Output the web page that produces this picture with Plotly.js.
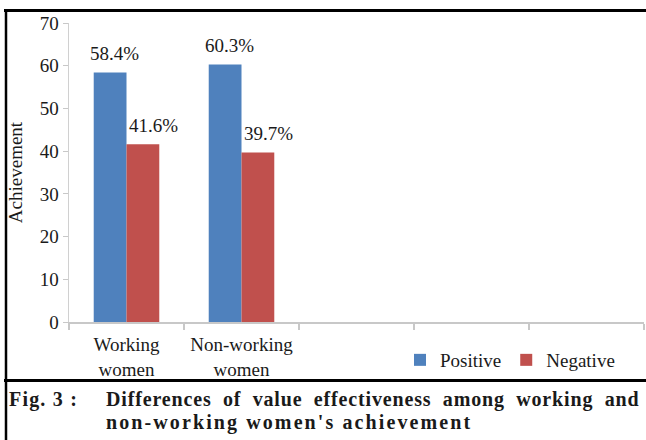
<!DOCTYPE html>
<html>
<head>
<meta charset="utf-8">
<script src="https://cdn.plot.ly/plotly-3.0.1.min.js"></script>
<style>
html,body{margin:0;padding:0;background:#fff;}
#chart{width:646px;height:440px;}
</style>
</head>
<body>
<div id="chart"></div>
<script>
// ---- data ----
var categories = ["Working<br>women", "Non-working<br>women", " ", "  ", "   "];
var groups = ["Working<br>women", "Non-working<br>women"];
var positive = [58.4, 60.3];
var negative = [41.6, 39.7];
var positiveLabels = ["58.4%", "60.3%"];
var negativeLabels = ["41.6%", "39.7%"];
var yTicks = [0, 10, 20, 30, 40, 50, 60, 70];
var captionFig = "Fig. 3 :";
var captionLine1 = "Differences of value effectiveness among working and";
var captionLine2 = "non-working women's achievement";

// ---- layout helpers (pixel -> paper) ----
var W = 646, H = 440;
var mL = 69, mR = 2, mT = 23, mB = 118;
var pw = W - mL - mR, ph = H - mT - mB;
function px(x){ return (x - mL) / pw; }
function py(y){ return (H - mB - y) / ph; }

var serif = "Liberation Serif, Times New Roman, serif";
var txt = "#1a1a1a";
var fs = 19;

var traces = [
  {type: "bar", name: "Positive", x: groups, y: positive, marker: {color: "#4f81bd"}, hoverinfo: "none"},
  {type: "bar", name: "Negative", x: groups, y: negative, marker: {color: "#c0504d"}, hoverinfo: "none"}
];

var annotations = [];
groups.forEach(function(g, i){
  annotations.push({x: g, y: positive[i], xref: "x", yref: "y", text: positiveLabels[i], showarrow: false,
    xshift: -12, yshift: 19, yanchor: "middle", font: {family: serif, size: fs, color: txt}});
});
groups.forEach(function(g, i){
  annotations.push({x: g, y: negative[i], xref: "x", yref: "y", text: negativeLabels[i], showarrow: false,
    xshift: 27, yshift: 19, yanchor: "middle", font: {family: serif, size: fs, color: txt}});
});
// caption (indices 4,5,6)
var capFont = {family: serif, size: 20, color: txt, weight: "bold"};
annotations.push({xref: "paper", yref: "paper", x: px(7), y: py(399), xanchor: "left", yanchor: "middle",
  text: captionFig, showarrow: false, font: capFont});
annotations.push({xref: "paper", yref: "paper", x: px(104), y: py(399), xanchor: "left", yanchor: "middle",
  text: captionLine1, showarrow: false, font: capFont});
annotations.push({xref: "paper", yref: "paper", x: px(104), y: py(422), xanchor: "left", yanchor: "middle",
  text: captionLine2, showarrow: false, font: capFont});

var shapes = [
  {type: "line", xref: "paper", yref: "paper", x0: px(4), x1: px(650), y0: py(10.5), y1: py(10.5), line: {color: "#000", width: 3}},
  {type: "line", xref: "paper", yref: "paper", x0: px(4), x1: px(650), y0: py(380.5), y1: py(380.5), line: {color: "#000", width: 3}},
  {type: "line", xref: "paper", yref: "paper", x0: px(6), x1: px(6), y0: py(9), y1: py(445), line: {color: "#000", width: 2.5}}
];

var layout = {
  width: W, height: H,
  margin: {l: mL, r: mR, t: mT, b: mB},
  paper_bgcolor: "#fff", plot_bgcolor: "#fff",
  font: {family: serif, size: fs, color: txt},
  barmode: "group", bargap: 0.43, bargroupgap: 0,
  showlegend: true,
  legend: {orientation: "h", x: px(400), y: py(341), xanchor: "left", yanchor: "top",
    font: {family: serif, size: fs, color: txt}, bgcolor: "rgba(0,0,0,0)", traceorder: "normal"},
  xaxis: {type: "category", categoryorder: "array", categoryarray: categories, range: [-0.5, 4.5],
    showline: true, linecolor: "#c8c8c8", linewidth: 1.5, ticks: "outside", tickson: "boundaries",
    ticklen: 6, tickcolor: "#c8c8c8", tickwidth: 1.5, showgrid: false, zeroline: false,
    ticklabelstandoff: 5,
    tickfont: {family: serif, size: fs, color: txt}, fixedrange: true},
  yaxis: {range: [0, 70], tickvals: yTicks, showline: true, linecolor: "#d0d0d0", linewidth: 1.5,
    ticks: "outside", ticklen: 5, tickcolor: "#c8c8c8", showgrid: false, zeroline: false,
    tickfont: {family: serif, size: fs, color: txt},
    title: {text: "Achievement", font: {family: serif, size: fs, color: txt}, standoff: 12}, fixedrange: true},
  annotations: annotations,
  shapes: shapes
};

Plotly.newPlot("chart", traces, layout, {displayModeBar: false, staticPlot: true}).then(function(){
  // caption spacing (justified look of the printed caption)
  var spec = {4: {ls: "1.2px"}, 5: {ls: "0.85px", ws: "5.5px"}, 6: {ls: "2.1px"}};
  Object.keys(spec).forEach(function(k){
    var t = document.querySelector('.annotation[data-index="' + k + '"] text.annotation-text');
    if (!t) return;
    var left = t.getBBox().x;
    t.setAttribute("text-anchor", "start");
    t.setAttribute("x", left);
    t.style.letterSpacing = spec[k].ls;
    if (spec[k].ws) t.style.wordSpacing = spec[k].ws;
  });
});
</script>
</body>
</html>
